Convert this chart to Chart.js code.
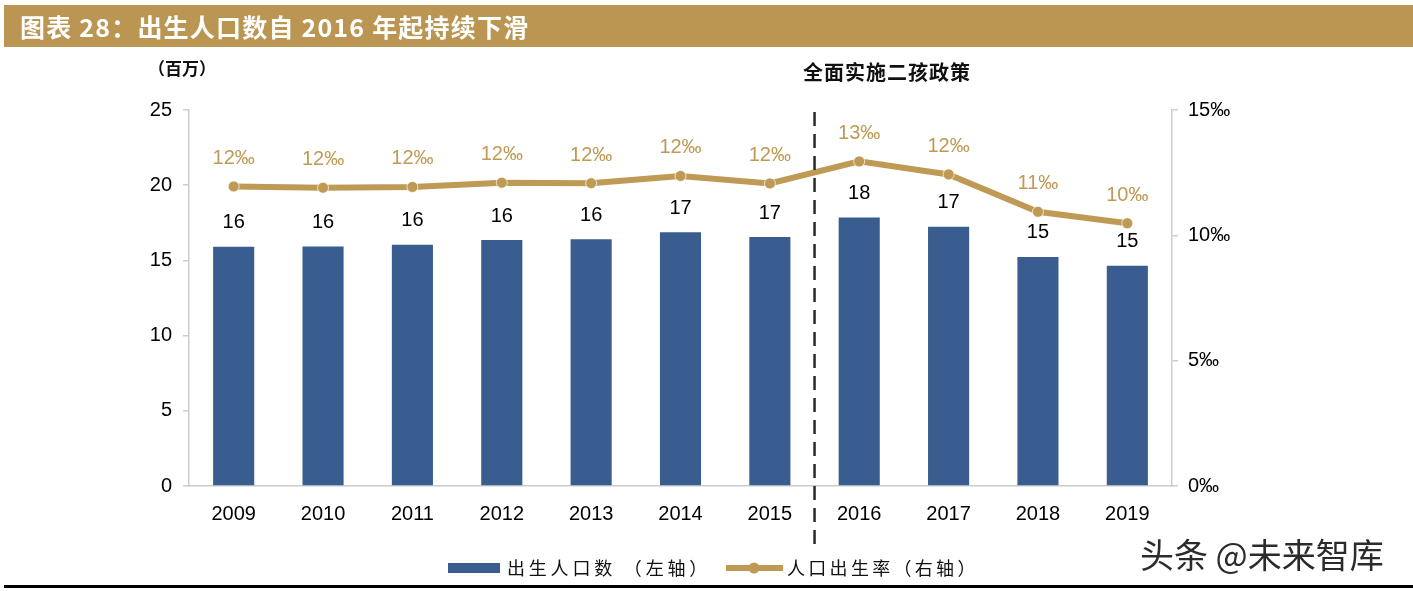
<!DOCTYPE html>
<html>
<head>
<meta charset="utf-8">
<script src="https://cdn.jsdelivr.net/npm/chart.js@4.4.1/dist/chart.umd.min.js"></script>
<style>
html,body{margin:0;padding:0;background:#fff;}
#wrap{position:relative;width:1413px;height:591px;}
</style>
</head>
<body>
<div id="wrap"><canvas id="c" width="1413" height="591"></canvas></div>
<script>
const categories = ['2009','2010','2011','2012','2013','2014','2015','2016','2017','2018','2019'];
const births = [15.91, 15.92, 16.04, 16.35, 16.40, 16.87, 16.55, 17.86, 17.23, 15.23, 14.65];
const birthRate = [11.95, 11.90, 11.93, 12.10, 12.08, 12.37, 12.07, 12.95, 12.43, 10.94, 10.48];
const leftTicks = [0, 5, 10, 15, 20, 25];
const rightTicks = [0, 5, 10, 15];
const titleText = '图表 28：出生人口数自 2016 年起持续下滑';
const unitText = '（百万）';
const policyText = '全面实施二孩政策';
const legendBar = '出生人口数 （左轴）';
const legendLine = '人口出生率（右轴）';
const watermark = '头条 @未来智库';

const BLUE = '#385D8E';
const GOLD = '#BF9A55';
const TITLEBG = '#BB9653';
const AXIS = '#CCCCCC';
const NUMFONT = '"Liberation Sans", Arial, sans-serif';
const CJK = '"Noto Sans CJK SC", sans-serif';

function spacedText(ctx, text, x, y, advanceExtra) {
  let cx = x;
  for (const ch of text) {
    ctx.fillText(ch, cx, y);
    cx += ctx.measureText(ch).width + advanceExtra;
  }
  return cx;
}

const decor = {
  id: 'decor',
  beforeDraw(chart) {
    const ctx = chart.ctx;
    ctx.save();
    ctx.fillStyle = '#fff';
    ctx.fillRect(0, 0, chart.width, chart.height);
    // title bar
    ctx.fillStyle = TITLEBG;
    ctx.fillRect(4, 5, chart.width - 4, 42);
    ctx.fillStyle = '#fff';
    ctx.font = 'bold 25px ' + CJK;
    ctx.textBaseline = 'middle';
    ctx.textAlign = 'left';
    spacedText(ctx, titleText, 20, 27, 1.2);
    // unit
    ctx.fillStyle = '#111';
    ctx.font = 'bold 17px ' + CJK;
    spacedText(ctx, unitText, 148, 69, 0);
    // policy label
    ctx.font = 'bold 20px ' + CJK;
    spacedText(ctx, policyText, 803, 72, 1);
    // bottom rule
    ctx.fillStyle = '#000';
    ctx.fillRect(4, 585, chart.width - 4, 3);
    ctx.restore();
  },
  afterDatasetsDraw(chart) {
    const ctx = chart.ctx;
    ctx.save();
    const barMeta = chart.getDatasetMeta(0);
    const lineMeta = chart.getDatasetMeta(1);
    // dashed divider between 2015 and 2016
    const xd = (barMeta.data[6].x + barMeta.data[7].x) / 2;
    ctx.strokeStyle = '#2a2a2a';
    ctx.lineWidth = 2.5;
    ctx.setLineDash([14, 8]);
    ctx.beginPath();
    ctx.moveTo(xd, 112);
    ctx.lineTo(xd, 545);
    ctx.stroke();
    ctx.setLineDash([]);
    // bar labels
    ctx.textAlign = 'center';
    ctx.textBaseline = 'middle';
    ctx.font = '20px ' + NUMFONT;
    ctx.fillStyle = '#000';
    barMeta.data.forEach((el, i) => {
      ctx.fillText(String(Math.round(births[i])), el.x, el.y - 24);
    });
    // line labels
    ctx.fillStyle = GOLD;
    lineMeta.data.forEach((el, i) => {
      ctx.fillText(Math.round(birthRate[i]) + '‰', el.x, el.y - 28);
    });
    // legend
    ctx.fillStyle = BLUE;
    ctx.fillRect(448, 563, 52, 10);
    ctx.fillStyle = '#111';
    ctx.font = '18px ' + CJK;
    ctx.textAlign = 'left';
    spacedText(ctx, legendBar, 507, 568, 3.8);
    ctx.strokeStyle = GOLD;
    ctx.lineWidth = 6;
    ctx.beginPath();
    ctx.moveTo(726, 568);
    ctx.lineTo(783, 568);
    ctx.stroke();
    ctx.fillStyle = GOLD;
    ctx.beginPath();
    ctx.arc(754, 568, 5.5, 0, Math.PI * 2);
    ctx.fill();
    ctx.fillStyle = '#111';
    spacedText(ctx, legendLine, 787, 568, 3.3);
    // watermark
    ctx.font = '34px ' + CJK;
    ctx.fillStyle = '#fff';
    ctx.fillText(watermark, 1142, 557);
    ctx.fillStyle = '#2b2b2b';
    ctx.fillText(watermark, 1140, 555);
    ctx.restore();
  }
};

new Chart(document.getElementById('c'), {
  data: {
    labels: categories,
    datasets: [
      {
        type: 'bar',
        label: legendBar,
        data: births,
        backgroundColor: BLUE,
        yAxisID: 'y',
        categoryPercentage: 1,
        barPercentage: 0.46,
        order: 2
      },
      {
        type: 'line',
        label: legendLine,
        data: birthRate,
        borderColor: GOLD,
        backgroundColor: GOLD,
        borderWidth: 6,
        pointRadius: 5.5,
        pointBorderWidth: 1,
        pointBorderColor: 'rgba(255,255,255,0.7)',
        pointBackgroundColor: GOLD,
        tension: 0,
        yAxisID: 'y1',
        order: 1
      }
    ]
  },
  options: {
    responsive: false,
    animation: false,
    devicePixelRatio: 1,
    layout: { padding: { top: 110, left: 0, right: 0, bottom: 0 } },
    plugins: { legend: { display: false }, tooltip: { enabled: false } },
    scales: {
      x: {
        grid: { display: false, drawTicks: false },
        border: { color: AXIS, width: 1.5 },
        ticks: { color: '#000', font: { family: NUMFONT, size: 20 }, padding: 16 },
        afterFit(s) { s.height = 105; }
      },
      y: {
        position: 'left',
        min: 0, max: 25,
        afterBuildTicks(s) { s.ticks = leftTicks.map(v => ({ value: v })); },
        grid: { drawOnChartArea: false, drawTicks: true, tickLength: 6, color: AXIS, lineWidth: 1.5 },
        border: { color: AXIS, width: 1.5 },
        ticks: { color: '#000', font: { family: NUMFONT, size: 20 }, padding: 11 },
        afterFit(s) { s.width = 189; }
      },
      y1: {
        position: 'right',
        min: 0, max: 15,
        afterBuildTicks(s) { s.ticks = rightTicks.map(v => ({ value: v })); },
        grid: { drawOnChartArea: false, drawTicks: true, tickLength: 6, color: AXIS, lineWidth: 1.5 },
        border: { color: AXIS, width: 1.5 },
        ticks: { color: '#000', font: { family: NUMFONT, size: 20 }, padding: 10, callback: v => v + '‰' },
        afterFit(s) { s.width = 241; }
      }
    }
  },
  plugins: [decor]
});
</script>
</body>
</html>
